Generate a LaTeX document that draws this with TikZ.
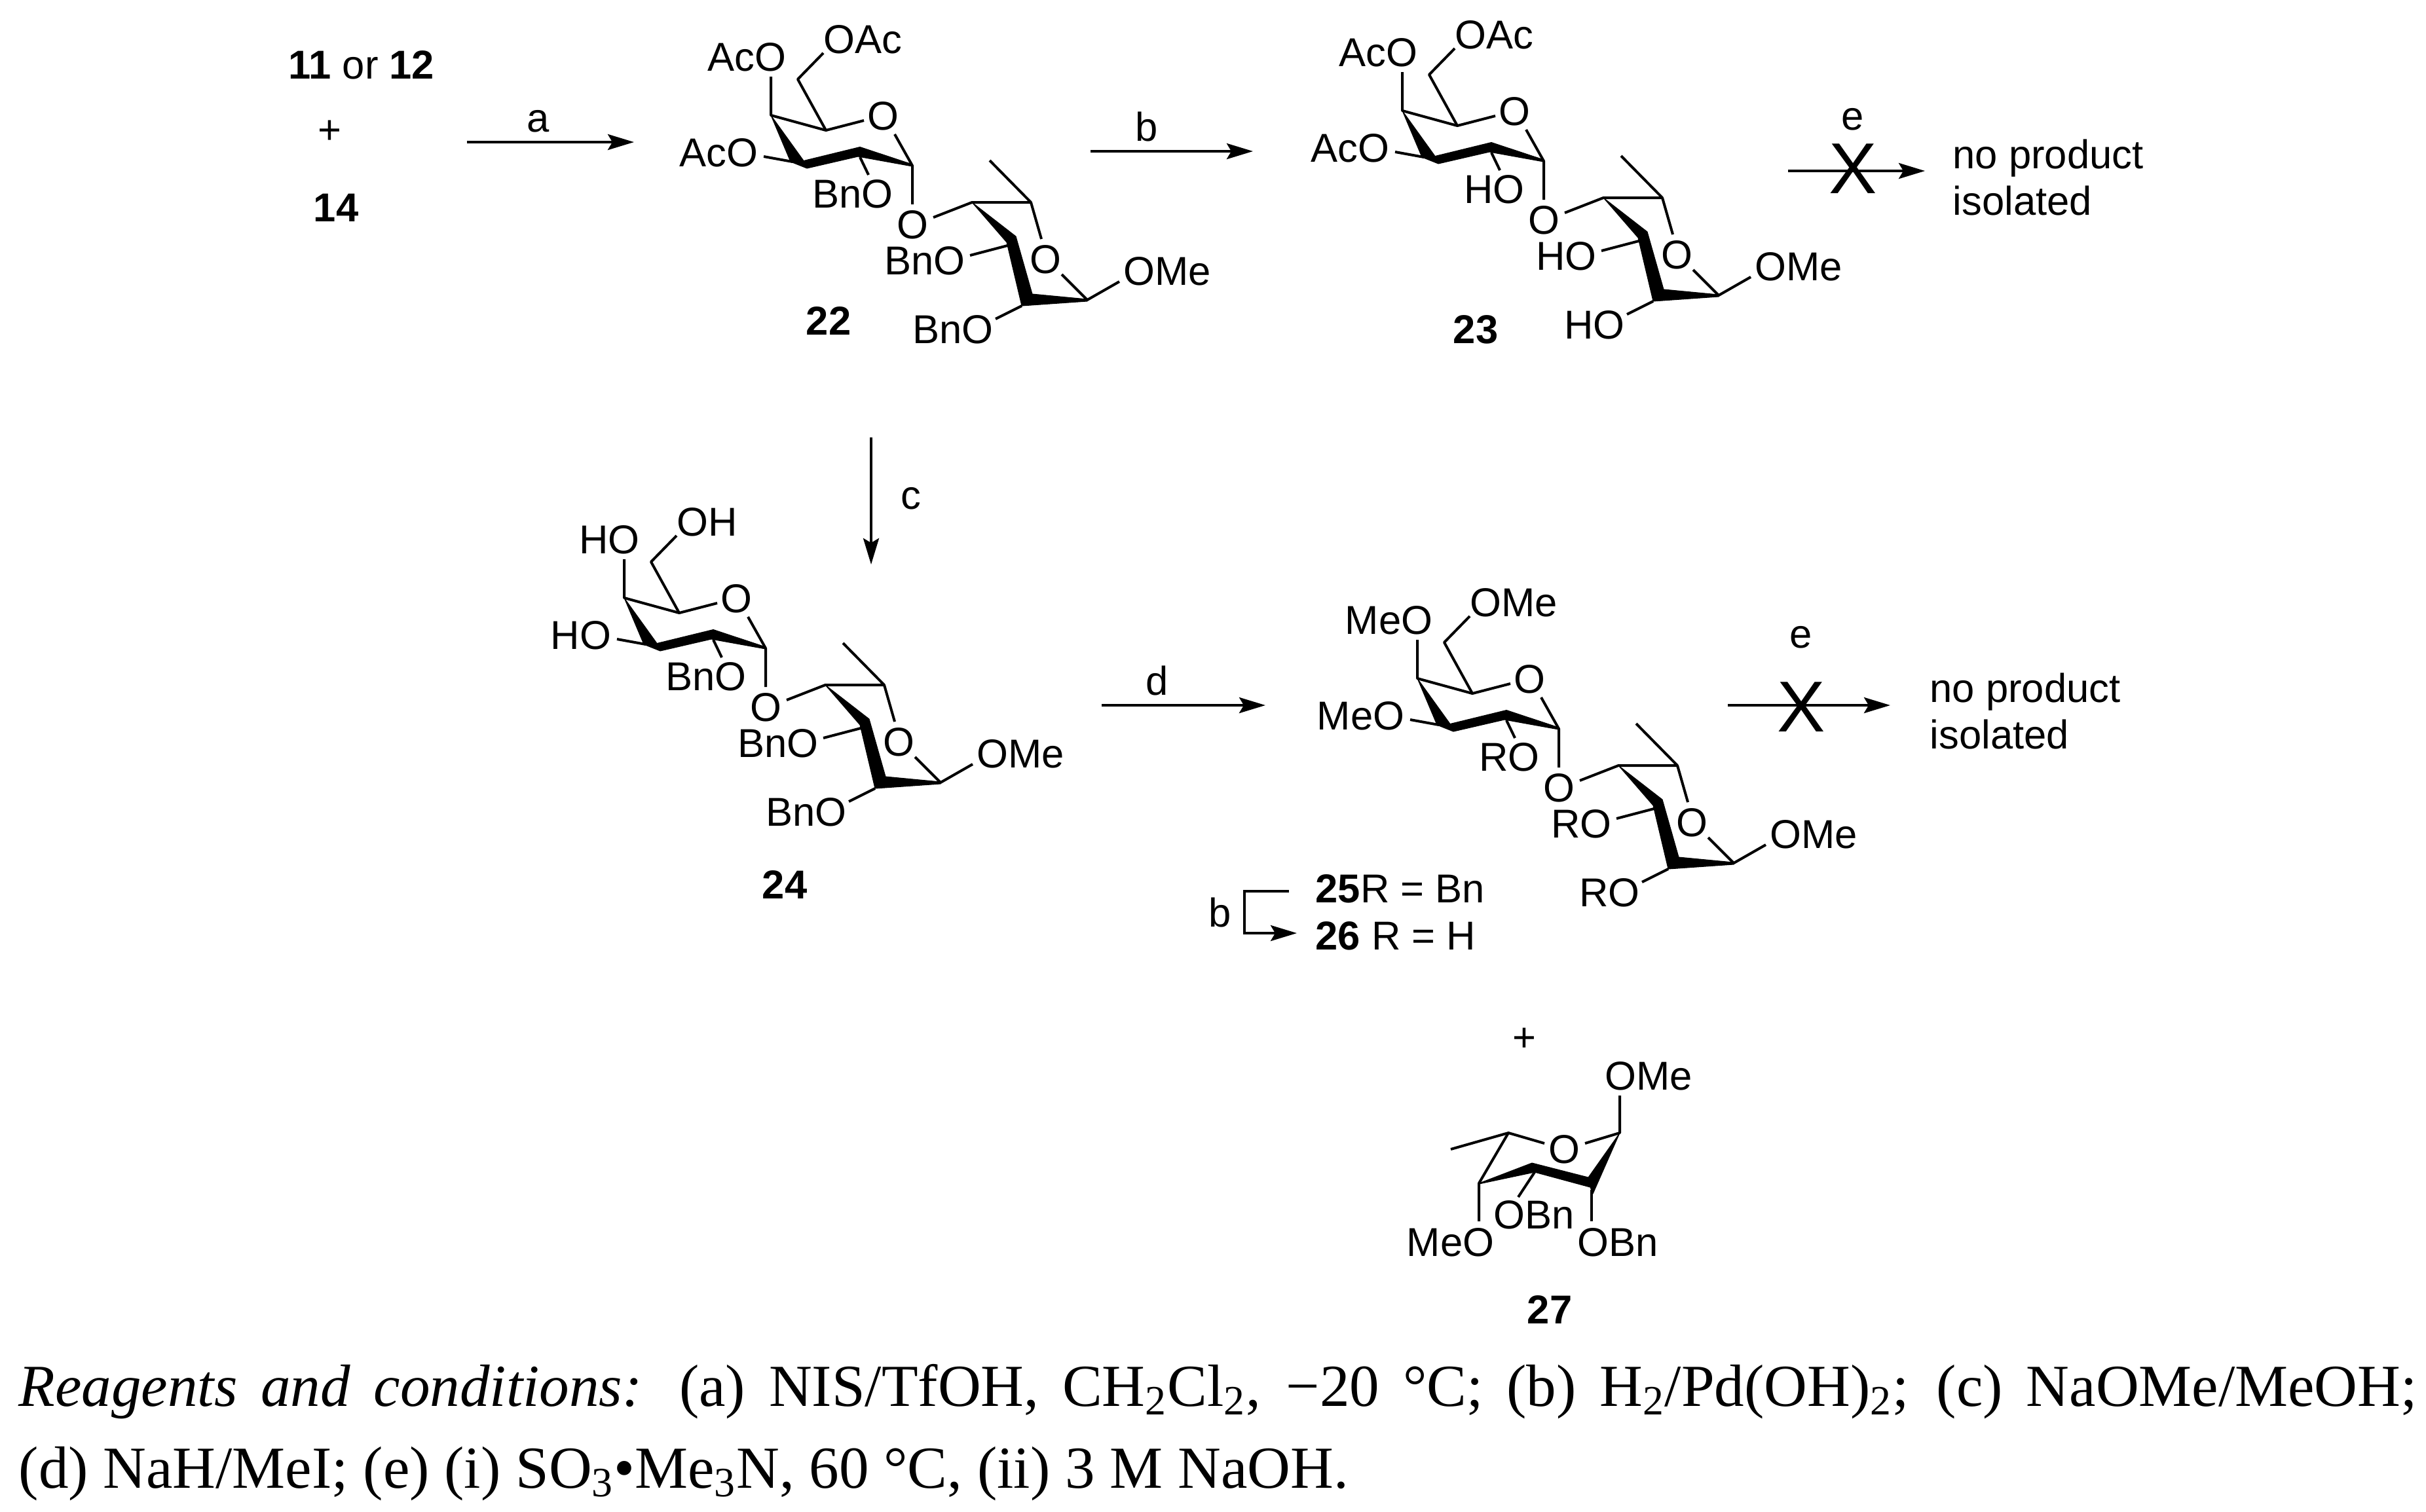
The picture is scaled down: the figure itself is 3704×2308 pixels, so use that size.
\documentclass[tikz,border=0pt]{standalone}
\usepackage{fontspec}
\setmainfont{Liberation Sans}
\newfontfamily\capfont{Liberation Serif}
\usetikzlibrary{arrows.meta}
\newcommand{\chemf}{\fontsize{17.5pt}{20pt}\selectfont}
\newcommand{\capf}{\capfont\fontsize{25.9pt}{28pt}\selectfont}
\tikzset{
  bond/.style={line width=0.04cm,line cap=butt,line join=round},
  wedge/.style={fill=black,draw=black,line width=0.01cm,line join=round},
  lab/.style={font=\chemf,inner sep=0pt},
  lr/.style={lab,anchor=base east},
  ll/.style={lab,anchor=base west},
  cen/.style={lab,anchor=center},
  rarrow/.style={line width=0.04cm,-{Stealth[length=0.40cm,width=0.24cm,inset=0.07cm]}},
  cross/.style={inner sep=0pt,font=\fontsize{31.3pt}{32pt}\selectfont},
  caption/.style={inner sep=0pt,anchor=base west,font=\capf}
}
% #1 name prefix, #2 shift, #3 top-left, #4 top-right, #5 left, #6 sugar-2, #7 middle, #8 lower
\newcommand{\disacc}[8]{%
\begin{scope}[shift={#2}]
  \fill[wedge] (1177,176)--(1227,245.5)--(1313,224.5)--(1393,251)--(1393,254)--(1310,239)--(1232,257)--(1207,247)--cycle;
  \fill[wedge] (1484,309)--(1551,361)--(1576,449)--(1660,457)--(1660,460)--(1560,467)--(1537,370)--cycle;
  \draw[bond] (1177,117)--(1177,176)--(1261,199)--(1319,184);
  \draw[bond] (1257,81)--(1218,121)--(1261,199);
  \draw[bond] (1366,205)--(1393,253)--(1393,312);
  \draw[bond] (1166,239)--(1210,247);
  \draw[bond] (1313,240)--(1326,267);
  \draw[bond] (1425,332)--(1484,309)--(1574,309)--(1590,365);
  \draw[bond] (1511,245)--(1574,309);
  \draw[bond] (1621,419)--(1660,458)--(1709,430);
  \draw[bond] (1542,374)--(1481,390);
  \draw[bond] (1560,467)--(1520,487);
  \node[lr] (#1a) at (1201,108) {#3};
  \node[ll] (#1b) at (1257,81) {#4};
  \node[lr] (#1c) at (1158,254) {#5};
  \node[cen] (#1d) at (1348,177) {O};
  \node[lr] (#1e) at (1364,317) {#6};
  \node[cen] (#1f) at (1393,343) {O};
  \node[cen] (#1g) at (1596,396) {O};
  \node[ll] (#1h) at (1715,435) {OMe};
  \node[lr] (#1i) at (1474,419) {#7};
  \node[lr] (#1j) at (1517,524) {#8};
\end{scope}}
\begin{document}
\begin{tikzpicture}[x=0.01cm,y=-0.01cm]
\useasboundingbox (0,0) rectangle (3704,2308);
\fill[white] (0,0) rectangle (3704,2308);
% starting materials
\node[cen] (sm) at (552,99) {\textbf{11} or \textbf{12}};
\node[cen] (plusa) at (503,202) {+};
\node[cen] (sn) at (513,317) {\textbf{14}};
% structures
\disacc{p}{(0,0)}{AcO}{OAc}{AcO}{BnO}{BnO}{BnO}
\disacc{q}{(964,-7)}{AcO}{OAc}{AcO}{HO}{HO}{HO}
\disacc{r}{(-224,737)}{HO}{OH}{HO}{BnO}{BnO}{BnO}
\disacc{s}{(987,860)}{MeO}{OMe}{MeO}{RO}{RO}{RO}
\node[cen] (n22) at (1265,490) {\textbf{22}};
\node[cen] (n23) at (2253,503) {\textbf{23}};
\node[cen] (n24) at (1198,1351) {\textbf{24}};
\node[cen] (n27) at (2366,2000) {\textbf{27}};
% arrows
\coordinate (a1) at (713,217); \coordinate (a2) at (968,217);
\draw[rarrow] (a1)--(a2);
\node[cen] (la) at (822,185) {a};
\coordinate (b1) at (1665,231); \coordinate (b2) at (1913,231);
\draw[rarrow] (b1)--(b2);
\node[cen] (lb) at (1751,193) {b};
\coordinate (c1) at (1330,668); \coordinate (c2) at (1330,862);
\draw[rarrow] (c1)--(c2);
\node[cen] (lc) at (1391,761) {c};
\coordinate (d1) at (1682,1077); \coordinate (d2) at (1932,1077);
\draw[rarrow] (d1)--(d2);
\node[cen] (ld) at (1767,1039) {d};
% blocked arrows
\coordinate (e1) at (2730,261); \coordinate (e2) at (2939,261);
\draw[rarrow] (e1)--(e2);
\node[cross] (x1) at (2829,258) {X};
\node[cen] (le1) at (2829,182) {e};
\node[ll] (np1) at (2981,257) {no product};
\node[ll] (is1) at (2981,328) {isolated};
\coordinate (f1) at (2638,1077); \coordinate (f2) at (2886,1077);
\draw[rarrow] (f1)--(f2);
\node[cross] (x2) at (2750,1080) {X};
\node[cen] (le2) at (2750,973) {e};
\node[ll] (np2) at (2946,1072) {no product};
\node[ll] (is2) at (2946,1143) {isolated};
% 25 -> 26
\coordinate (g1) at (1968,1361); \coordinate (g2) at (1900,1361); \coordinate (g3) at (1900,1425); \coordinate (g4) at (1980,1425);
\draw[rarrow,line join=miter] (g1)--(g2)--(g3)--(g4);
\node[cen] (lg) at (1863,1393) {b};
\node[ll] (t25) at (2008,1378) {\textbf{25}R = Bn};
\node[ll] (t26) at (2008,1450) {\textbf{26} R = H};
% 27
\node[cen] (plusb) at (2327,1588) {+};
\fill[wedge] (2258,1807)--(2339,1776)--(2425,1798)--(2473,1730)--(2432,1823)--(2428,1813)--(2343,1790)--(2258,1808)--cycle;
\draw[bond] (2473,1673)--(2473,1730)--(2420,1746);
\draw[bond] (2358,1746)--(2303,1730)--(2215,1755);
\draw[bond] (2303,1730)--(2258,1807)--(2258,1865);
\draw[bond] (2343,1790)--(2318,1828);
\draw[bond] (2430,1817)--(2430,1865);
\node[ll] (o1) at (2450,1664) {OMe};
\node[cen] (o2) at (2388,1755) {O};
\node[lr] (o3) at (2282,1918) {MeO};
\node[ll] (o4) at (2280,1876) {OBn};
\node[ll] (o5) at (2408,1918) {OBn};
% caption
\node[caption] (cap1) at (28,2147) {\makebox[36.6cm][s]{\textit{Reagents and conditions:} (a) NIS/TfOH, CH\textsubscript{2}Cl\textsubscript{2}, −20 °C; (b) H\textsubscript{2}/Pd(OH)\textsubscript{2}; (c) NaOMe/MeOH;}};
\node[caption] (cap2) at (28,2272) {(d) NaH/MeI; (e) (i) SO\textsubscript{3}•Me\textsubscript{3}N, 60 °C, (ii) 3 M NaOH.};
\end{tikzpicture}
\end{document}
